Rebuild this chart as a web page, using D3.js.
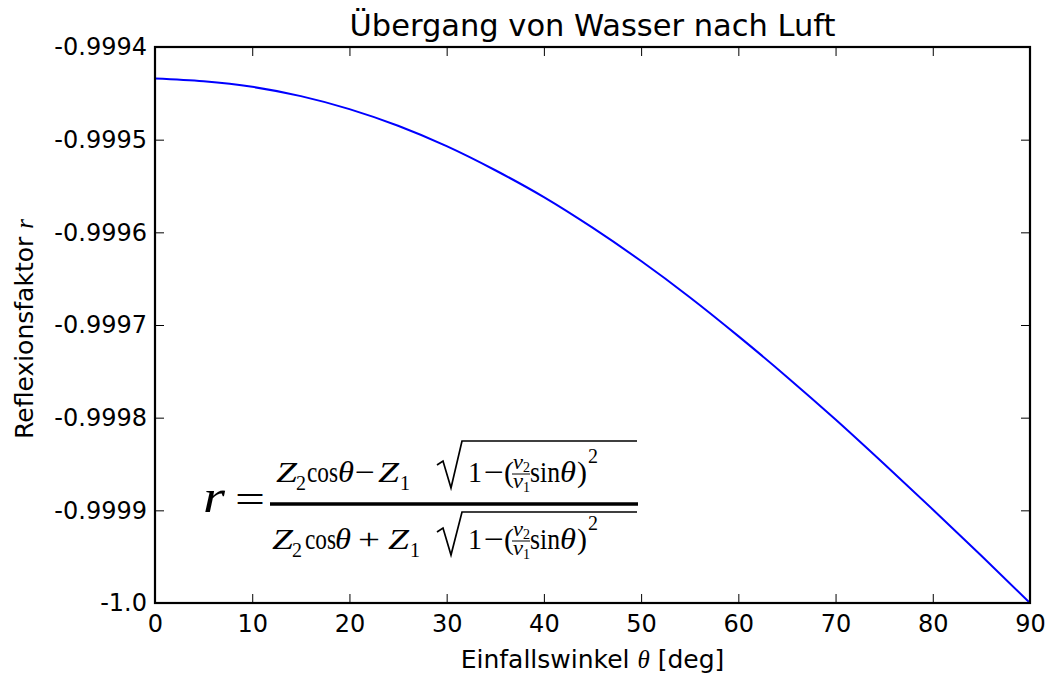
<!DOCTYPE html>
<html>
<head>
<meta charset="utf-8">
<script src="https://cdn.jsdelivr.net/npm/d3@7"></script>
<style>
  body { margin: 0; background: #fff; }
  svg text { font-family: "DejaVu Sans", sans-serif; }
  .math text { font-family: "Liberation Serif", serif; }
</style>
</head>
<body>
<script>
// incidence angle in degrees and reflection factor
var angles = [0, 5, 10, 15, 20, 25, 30, 35, 40, 45, 50, 55, 60, 65, 70, 75, 80, 85, 90];
var rValues = [-0.999434, -0.999437, -0.999443, -0.999453, -0.999467, -0.999485, -0.999507,
    -0.999533, -0.999562, -0.999595, -0.999631, -0.999670, -0.999712, -0.999756,
    -0.999802, -0.999850, -0.999899, -0.999949, -1.0];

var xTicks = [0, 10, 20, 30, 40, 50, 60, 70, 80, 90];
var yTicks = [-0.9994, -0.9995, -0.9996, -0.9997, -0.9998, -0.9999, -1.0];
var yTickLabels = ["-0.9994", "-0.9995", "-0.9996", "-0.9997", "-0.9998", "-0.9999", "-1.0"];

var width = 1048, height = 678;
var plotLeft = 155, plotRight = 1030, plotTop = 47, plotBottom = 603;

var svg = d3.select("body")
    .append("svg")
    .attr("width", width)
    .attr("height", height);

var x = d3.scaleLinear().domain([0, 90]).range([plotLeft, plotRight]);
var y = d3.scaleLinear().domain([-1.0, -0.9994]).range([plotBottom, plotTop]);

var points = angles.map(function (a, i) { return [a, rValues[i]]; });

svg.append("path")
    .datum(points)
    .attr("fill", "none")
    .attr("stroke", "#0000ff")
    .attr("stroke-width", 2)
    .attr("d", d3.line()
        .x(function (d) { return x(d[0]); })
        .y(function (d) { return y(d[1]); })
        .curve(d3.curveMonotoneX));

function styleAxis(g) {
    g.select(".domain").remove();
    g.selectAll(".tick line").attr("stroke", "#000").attr("stroke-width", 1);
    g.selectAll(".tick text").attr("fill", "#000").style("font-size", "24px")
        .style("font-family", "DejaVu Sans");
}

svg.append("g")
    .attr("transform", `translate(0, ${plotBottom})`)
    .call(d3.axisBottom(x).tickValues(xTicks).tickSizeInner(-9).tickSizeOuter(0).tickPadding(12))
    .call(styleAxis);

svg.append("g")
    .attr("transform", `translate(0, ${plotTop})`)
    .call(d3.axisTop(x).tickValues(xTicks).tickSizeInner(-9).tickSizeOuter(0).tickFormat(""))
    .call(styleAxis);

svg.append("g")
    .attr("transform", `translate(${plotLeft}, 0)`)
    .call(d3.axisLeft(y).tickValues(yTicks).tickSizeInner(-9).tickSizeOuter(0).tickPadding(8)
        .tickFormat(function (d, i) { return yTickLabels[i]; }))
    .call(styleAxis);

svg.append("g")
    .attr("transform", `translate(${plotRight}, 0)`)
    .call(d3.axisRight(y).tickValues(yTicks).tickSizeInner(-9).tickSizeOuter(0).tickFormat(""))
    .call(styleAxis);

svg.append("rect")
    .attr("x", plotLeft)
    .attr("y", plotTop)
    .attr("width", plotRight - plotLeft)
    .attr("height", plotBottom - plotTop)
    .attr("fill", "none")
    .attr("stroke", "#000")
    .attr("stroke-width", 2.2);

// title and axis labels
svg.append("text")
    .attr("x", (plotLeft + plotRight) / 2)
    .attr("y", 36)
    .attr("text-anchor", "middle")
    .style("font-size", "30.5px")
    .text("Übergang von Wasser nach Luft");

var xl = svg.append("text")
    .attr("x", (plotLeft + plotRight) / 2)
    .attr("y", 668)
    .attr("text-anchor", "middle")
    .style("font-size", "25px");
xl.append("tspan").text("Einfallswinkel ");
xl.append("tspan").style("font-family", "Liberation Serif").style("font-style", "italic").text("θ");
xl.append("tspan").text(" [deg]");

var yl = svg.append("text")
    .attr("transform", `translate(33, ${(plotTop + plotBottom) / 2 + 4}) rotate(-90)`)
    .attr("text-anchor", "middle")
    .style("font-size", "25px");
yl.append("tspan").text("Reflexionsfaktor ");
yl.append("tspan").style("font-family", "Liberation Serif").style("font-style", "italic").text("r");

// formula
var m = svg.append("g").attr("class", "math");

function put(s, px, py, size, italic, len) {
    var t = m.append("text")
        .attr("x", px)
        .attr("y", py)
        .style("font-size", size + "px")
        .style("font-style", italic ? "italic" : "normal")
        .text(s);
    if (len) t.attr("textLength", len).attr("lengthAdjust", "spacingAndGlyphs");
    return t;
}

function sqrtPart(base, over) {
    m.append("path")
        .attr("d", `M437,${base - 17} L443,${base - 21} L451,${base + 6} L462,${over} L637,${over}`)
        .attr("fill", "none")
        .attr("stroke", "#000")
        .attr("stroke-width", 1.7);
    put("1", 468, base, 30, false, 14);
    put("−", 484, base, 30, false, 20);
    put("(", 504, base, 30);
    put("v", 513, base - 13, 20, true, 10);
    put("2", 523, base - 10, 14);
    m.append("line")
        .attr("x1", 512).attr("x2", 530)
        .attr("y1", base - 8).attr("y2", base - 8)
        .attr("stroke", "#000").attr("stroke-width", 1);
    put("v", 513, base + 6, 20, true, 10);
    put("1", 523, base + 10, 14);
    put("sin", 530, base, 30, false, 30);
    put("θ", 560, base, 30, true, 16);
    put(")", 577, base, 30);
    put("2", 588, base - 19, 20);
}

// numerator
put("Z", 276, 482, 30, true, 21);
put("2", 296, 490, 20);
put("cos", 307, 482, 30, false, 31);
put("θ", 338, 482, 30, true, 16);
put("−", 355, 482, 30, false, 20);
put("Z", 378, 482, 30, true, 21);
put("1", 400, 490, 20);
sqrtPart(482, 441);

// denominator
put("Z", 272, 549, 30, true, 21);
put("2", 292, 557, 20);
put("cos", 305, 549, 30, false, 31);
put("θ", 335, 549, 30, true, 16);
put("+", 358, 549, 30, false, 22);
put("Z", 388, 549, 30, true, 21);
put("1", 410, 557, 20);
sqrtPart(549, 512);

m.append("line")
    .attr("x1", 270).attr("x2", 638)
    .attr("y1", 504).attr("y2", 504)
    .attr("stroke", "#000").attr("stroke-width", 3.5);

put("r", 203, 512, 46, true, 22);
put("=", 235, 513, 40, false, 30);
</script>
</body>
</html>
